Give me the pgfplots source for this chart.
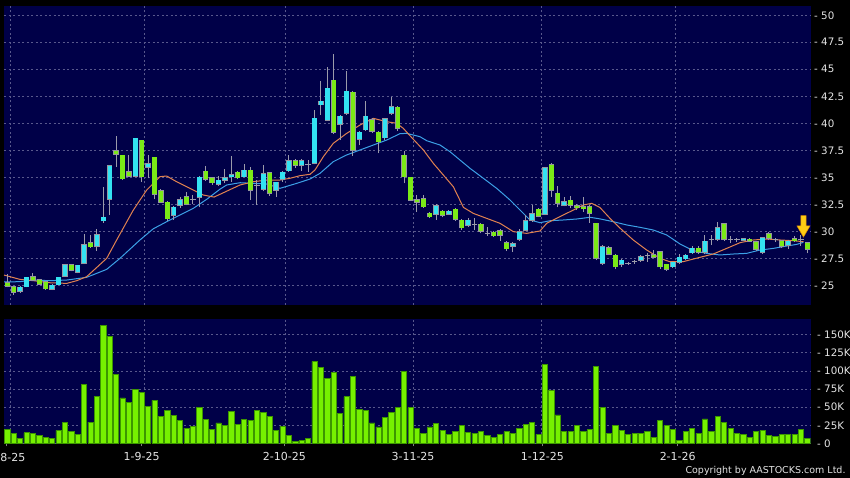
\documentclass[border=0pt]{standalone}
\usepackage{pgfplots}
\pgfplotsset{compat=1.18}
\usepackage{pgfplotstable}
\usepackage{fontspec}
\setmainfont{DejaVu Sans}
\definecolor{navy}{RGB}{0,0,72}
\definecolor{gridc}{RGB}{88,88,140}
\definecolor{upc}{RGB}{51,226,242}
\definecolor{dnc}{RGB}{122,234,22}
\definecolor{edgec}{RGB}{150,150,160}
\definecolor{wickc}{RGB}{155,155,170}
\definecolor{ma1}{RGB}{225,130,80}
\definecolor{ma2}{RGB}{60,160,230}
\definecolor{volc}{RGB}{118,240,0}
\definecolor{voledge}{RGB}{60,150,0}
\definecolor{labc}{RGB}{228,228,228}
\definecolor{arrowc}{RGB}{255,205,20}
\definecolor{arrowedge}{RGB}{220,140,0}

\pgfplotstableread{
i O H L C
2 24.44 24.90 24.30 24.81
3 24.87 25.80 24.80 25.74
7 24.63 25.10 24.55 25.00
8 25.06 25.80 25.00 25.74
9 25.86 27.00 25.80 26.91
11 26.23 26.90 26.10 26.85
12 27.03 29.75 27.00 28.76
14 28.64 30.24 28.21 29.69
15 30.99 34.07 30.80 31.29
16 32.96 36.10 31.54 36.05
20 35.12 38.65 35.00 38.61
22 35.92 37.04 34.91 36.23
26 31.51 32.30 31.05 32.22
27 32.40 33.20 32.20 32.90
30 33.15 35.10 32.22 35.00
33 34.35 35.10 34.20 34.72
34 34.72 35.80 34.44 34.97
35 35.06 36.97 34.60 35.21
37 35.06 36.23 35.00 35.65
40 33.89 36.14 33.70 35.34
42 33.82 34.60 33.20 34.53
43 34.81 35.60 34.60 35.46
44 35.62 37.07 35.50 36.54
46 36.11 36.70 35.60 36.54
48 36.29 41.23 36.20 40.46
49 41.73 43.95 40.77 42.03
50 40.31 45.24 40.20 43.24
52 39.91 40.80 38.46 40.65
53 40.92 44.84 40.80 42.96
55 38.52 39.30 37.99 39.16
56 39.41 42.10 39.30 40.65
59 38.67 40.50 38.50 40.40
60 40.92 42.47 40.80 41.54
67 31.60 32.50 31.05 32.37
69 31.60 32.00 31.50 31.85
72 30.55 31.20 30.40 31.02
79 28.61 29.00 28.12 28.86
80 29.26 30.18 29.13 29.94
81 30.12 31.50 30.00 30.99
82 31.05 32.44 30.90 31.60
84 31.60 36.00 31.50 35.86
87 32.44 33.21 32.30 32.74
93 27.03 28.70 26.90 28.58
96 26.94 27.40 26.70 27.31
99 27.34 27.80 27.20 27.65
104 26.73 27.20 26.60 27.13
105 27.16 27.90 27.00 27.59
106 27.47 27.90 27.30 27.78
107 28.02 28.60 27.90 28.42
109 28.05 29.66 27.90 29.07
111 29.26 30.89 29.10 30.34
115 29.20 29.40 29.10 29.32
118 28.05 29.50 27.90 29.41
122 28.70 29.20 28.40 29.07
}\up

\pgfplotstableread{
i O H L C
0 25.24 26.05 24.81 24.94
1 24.87 24.95 24.13 24.38
4 25.80 26.17 25.40 25.49
5 25.49 25.60 25.00 25.12
6 25.31 25.40 24.60 24.69
10 26.91 27.00 26.30 26.42
13 28.95 29.63 28.50 28.58
17 37.47 38.83 35.99 37.16
18 37.04 37.10 34.75 34.87
19 35.49 37.04 35.00 35.12
21 38.42 38.50 34.60 35.06
23 36.85 36.90 32.96 33.45
24 33.76 33.90 32.60 32.71
25 32.68 32.80 31.00 31.17
28 33.21 33.60 32.40 32.53
31 35.55 36.05 34.70 34.81
32 34.94 35.00 34.30 34.50
36 35.46 35.60 34.80 34.97
38 35.65 36.00 32.90 33.79
41 35.40 35.50 33.30 33.55
45 36.54 36.70 35.90 36.11
51 43.98 46.42 39.00 39.16
54 42.87 43.00 37.00 37.50
57 40.31 40.50 39.10 39.29
58 39.16 39.30 37.22 38.30
61 41.48 41.60 39.30 39.57
62 37.04 37.40 34.44 35.06
63 35.00 35.00 32.80 32.87
64 32.90 33.36 31.82 32.68
65 32.99 33.36 32.20 32.28
66 31.66 31.80 31.20 31.36
68 31.85 32.00 31.30 31.48
70 32.04 32.20 31.00 31.11
71 31.02 31.10 30.10 30.34
74 30.65 30.80 29.80 30.03
76 29.91 30.00 29.50 29.60
77 30.06 30.18 29.13 29.63
78 28.95 29.10 28.20 28.39
83 32.04 32.20 31.30 31.42
85 36.17 36.30 33.21 33.79
86 33.52 34.23 32.22 32.59
88 32.87 33.27 32.13 32.44
89 32.37 32.50 32.00 32.19
90 32.28 33.15 31.82 32.10
91 32.28 32.40 30.80 31.66
92 30.74 30.80 27.34 27.50
94 28.46 28.60 27.80 27.90
95 27.78 27.90 26.48 26.73
101 27.81 28.27 27.50 27.59
102 28.12 28.20 26.54 26.73
103 26.94 27.00 26.36 26.48
108 28.42 28.60 27.90 28.05
112 30.71 30.80 29.10 29.26
116 29.26 29.35 29.00 29.10
117 29.04 29.10 28.20 28.33
119 29.75 29.97 29.20 29.35
121 29.13 29.20 28.50 28.64
123 29.29 29.57 29.00 29.13
125 28.95 29.00 27.96 28.33
}\down

\pgfplotstableread{
i O H L C
29 32.90 33.40 32.50 32.95
39 34.20 34.75 32.47 34.25
47 36.12 36.60 35.52 36.16
73 30.55 31.20 30.12 30.60
75 29.80 30.43 29.57 29.82
97 27.03 27.20 26.90 27.05
98 27.15 27.30 27.00 27.17
100 27.70 28.02 27.19 27.72
110 29.18 29.66 28.73 29.20
113 29.18 29.60 28.90 29.20
114 29.20 29.40 29.00 29.21
120 29.25 29.40 29.00 29.26
124 29.18 29.66 28.67 29.20
}\doji

\pgfplotstableread{
i v
0 19.7
1 13.8
2 6.9
3 14.7
4 13.8
5 11.5
6 8.7
7 6.9
8 17.9
9 29.4
10 17.0
11 12.8
12 81.2
13 29.4
14 64.2
15 162.4
16 146.8
17 94.5
18 62.8
19 56.9
20 74.3
21 69.7
22 50.9
23 59.2
24 37.2
25 45.9
26 38.5
27 31.7
28 21.1
29 23.4
30 49.5
31 33.0
32 19.3
33 28.4
34 24.8
35 44.5
36 26.1
37 33.5
38 32.1
39 45.4
40 42.7
41 37.6
42 17.9
43 23.4
44 11.5
45 2.8
46 4.6
47 7.3
48 112.8
49 104.1
50 89.9
51 97.7
52 41.7
53 64.2
54 92.2
55 46.8
56 45.9
57 28.4
58 22.9
59 35.3
60 42.2
61 49.1
62 99.1
63 49.5
64 21.1
65 14.2
66 22.9
67 28.0
68 17.9
69 11.9
70 16.5
71 24.8
72 15.6
73 14.2
74 16.1
75 11.5
76 8.3
77 11.9
78 16.1
79 14.2
80 21.1
81 26.6
82 29.4
83 12.4
84 108.3
85 72.9
86 39.4
87 17.0
88 16.5
89 24.8
90 17.0
91 19.7
92 105.5
93 49.1
94 13.8
95 24.3
96 17.9
97 12.4
98 13.3
99 13.8
100 16.1
101 8.3
102 32.1
103 24.3
104 19.3
105 4.1
106 17.0
107 20.2
108 13.8
109 33.9
110 16.1
111 37.6
112 28.9
113 20.2
114 14.2
115 12.4
116 8.3
117 16.1
118 17.9
119 11.5
120 10.1
121 12.8
122 12.8
123 12.4
124 19.3
125 7.3
}\vol

\pgfplotsset{
  panel/.style={
    anchor=south west, scale only axis, width=806.7pt,
    xmin=-0.516, xmax=125.53,
    axis background/.style={fill=navy},
    axis line style={draw=none},
    xtick={-0.2,21.0,43.28,63.39,83.6,104.75},
    minor xtick={0.5,21.45,43.5,63.45,83.5,104.45},
    xtick pos=bottom,
    xminorgrids=true, ymajorgrids=true,
    grid style={draw=gridc, dash pattern=on 2pt off 2.5pt, line width=0.6pt},
    minor grid style={draw=gridc, dash pattern=on 2pt off 2.5pt, line width=0.6pt},
    minor tick length=0pt,
    ytick style={draw=none},
    yticklabel pos=right,
    yticklabel style={font=\fontsize{10.3}{12}\selectfont, text=labc, anchor=west, xshift=0pt},
    clip=true,
  },
  wick/.style={draw=none, mark=none, forget plot,
    error bars/.cd, y dir=plus, y explicit, error mark=none,
    error bar style={draw=wickc, line width=1pt}},
  body/.style 2 args={draw=none, mark=none, forget plot,
    error bars/.cd, y dir=plus, y explicit, error mark=none,
    error bar style={draw=#1, line width=#2}},
}

\begin{document}
\begin{tikzpicture}
\path[use as bounding box] (0pt,0pt) rectangle (850pt,478pt);
\fill[black] (0pt,0pt) rectangle (850pt,478pt);
\clip (0pt,0pt) rectangle (850pt,478pt);

% price panel
\begin{axis}[panel,
  at={(4pt,173pt)}, height=299pt,
  ymin=23.18, ymax=50.86,
  xticklabels={},
  major tick length=0pt, xtick style={draw=none},
  ytick={25,27.5,30,32.5,35,37.5,40,42.5,45,47.5,50},
  yticklabels={- 25,- 27.5,- 30,- 32.5,- 35,- 37.5,- 40,- 42.5,- 45,- 47.5,- 50},
]
% moving averages
\addplot[ma2, line width=1pt, mark=none] coordinates {
(-0.5,25.31) (1.98,25.34) (4.07,25.49) (6.67,25.43) (9.28,25.49) (12.4,25.74)
(15.53,26.48) (17.61,27.5) (20.73,29.2) (22.82,30.24) (24.9,30.89) (26.98,31.51)
(29.07,32.13) (31.15,32.96) (33.23,33.9) (34.28,34.29) (36.36,34.5) (38.44,34.44)
(40.53,34.38) (42.61,33.98) (45.22,34.44) (47.3,34.84) (48.86,35.37) (50.94,36.45)
(53.03,37.07) (55.11,37.53) (57.19,37.99) (59.28,38.45) (61.36,39.04) (62.4,39.07)
(64.48,38.76) (65.53,38.39) (67.61,37.99) (69.17,37.37) (70.73,36.6) (72.3,35.83)
(74.38,34.91) (76.46,33.98) (78.55,32.9) (80.11,31.97) (81.67,31.05) (83.23,30.8)
(84.8,30.98) (86.88,31.05) (88.96,31.14) (91.05,31.3) (92.61,31.15) (94.69,30.89)
(96.78,30.59) (98.86,30.37) (100.94,30.12) (103.03,29.66) (105.11,28.83) (107.19,28.21)
(109.28,27.96) (111.36,27.81) (113.44,27.9) (115.53,27.96) (117.61,28.27) (119.69,28.42)
(121.78,28.64) (123.34,28.79) (124.38,28.98)
};
\addplot[ma1, line width=1pt, mark=none] coordinates {
(-0.5,25.95) (1.98,25.55) (4.07,25.43) (6.67,25.24) (9.28,25.18) (10.84,25.43)
(12.4,25.8) (15.53,27.5) (17.09,29.2) (19.69,31.97) (21.78,33.82) (23.86,35.06)
(24.9,35.12) (26.46,34.59) (28.54,33.98) (30.63,33.36) (32.3,33.17) (36.36,34.29)
(38.44,34.59) (40.53,34.75) (42.61,34.75) (44.17,34.91) (45.73,35.15) (47.3,35.28)
(48.08,35.68) (49.38,36.91) (50.94,38.15) (53.03,39.07) (55.11,39.84) (57.19,40.46)
(59.28,40.15) (60.84,40.0) (61.88,39.53) (62.92,38.85) (65.01,37.53) (66.57,36.29)
(68.13,35.21) (69.69,34.13) (71.26,32.22) (72.82,31.66) (74.9,31.2) (76.99,30.74)
(79.07,29.97) (81.15,29.81) (83.23,30.03) (84.28,30.74) (86.36,31.36) (88.44,31.97)
(90.01,32.44) (91.31,32.59) (92.61,32.2) (94.17,31.2) (95.73,30.3) (97.8,29.2)
(99.9,28.27) (101.98,27.5) (103.5,27.19) (105.6,27.19) (108.2,27.59) (110.3,27.9)
(112.4,28.42) (114.5,28.95) (116.6,29.2) (118.7,29.29) (120.7,29.2) (122.8,29.13)
(124.4,29.04)
};
% wicks
\addplot[wick] table[x=i, y=L, y error plus expr=\thisrow{H}-\thisrow{L}] {\up};
\addplot[wick] table[x=i, y=L, y error plus expr=\thisrow{H}-\thisrow{L}] {\down};
\addplot[wick] table[x=i, y=L, y error plus expr=\thisrow{H}-\thisrow{L}] {\doji};
% body outlines
\addplot[body={edgec}{5.4pt}] table[x=i, y expr=\thisrow{O}-0.06, y error plus expr=\thisrow{C}-\thisrow{O}+0.12] {\up};
\addplot[body={edgec}{5.4pt}] table[x=i, y expr=\thisrow{C}-0.06, y error plus expr=\thisrow{O}-\thisrow{C}+0.12] {\down};
% bodies
\addplot[body={upc}{4.4pt}] table[x=i, y=O, y error plus expr=\thisrow{C}-\thisrow{O}] {\up};
\addplot[body={dnc}{4.4pt}] table[x=i, y=C, y error plus expr=\thisrow{O}-\thisrow{C}] {\down};
% doji crosses
\addplot[only marks, mark=-, mark size=2.7pt, mark options={draw=wickc, line width=1pt}, forget plot] table[x=i, y=C] {\doji};
% marker arrow
\filldraw[fill=arrowc, draw=arrowedge, line width=0.5pt]
  (axis cs:124.0,31.45) -- (axis cs:124.8,31.45) -- (axis cs:124.8,30.5)
  -- (axis cs:125.42,30.5) -- (axis cs:124.4,29.47) -- (axis cs:123.38,30.5)
  -- (axis cs:124.0,30.5) -- cycle;
\end{axis}

% volume panel
\begin{axis}[panel,
  at={(4pt,34.5pt)}, height=124.2pt,
  ymin=0, ymax=170.9,
  xticklabels={,1-9-25,2-10-25,3-11-25,1-12-25,2-1-26},
  xtick style={draw=gray, line width=0.8pt},
  tick align=outside, major tick length=3pt,
  xticklabel style={font=\fontsize{11}{13}\selectfont, text=labc, anchor=base, yshift=-14pt},
  ytick={0,25,50,75,100,125,150},
  yticklabels={- 0,- 25K,- 50K,- 75K,- 100K,- 125K,- 150K},
]
\addplot[ybar, bar width=5.3pt, fill=volc, draw=voledge, line width=0.7pt] table[x=i, y=v] {\vol};
\end{axis}

\node[anchor=base west, inner sep=0pt, text=labc, font=\fontsize{11}{13}\selectfont] at (0.3pt,16.5pt) {8-25};
\node[anchor=base east, inner sep=0pt, text=labc, font=\fontsize{9.5}{11}\selectfont] at (845.7pt,4pt) {Copyright by AASTOCKS.com Ltd.};
\end{tikzpicture}
\end{document}
